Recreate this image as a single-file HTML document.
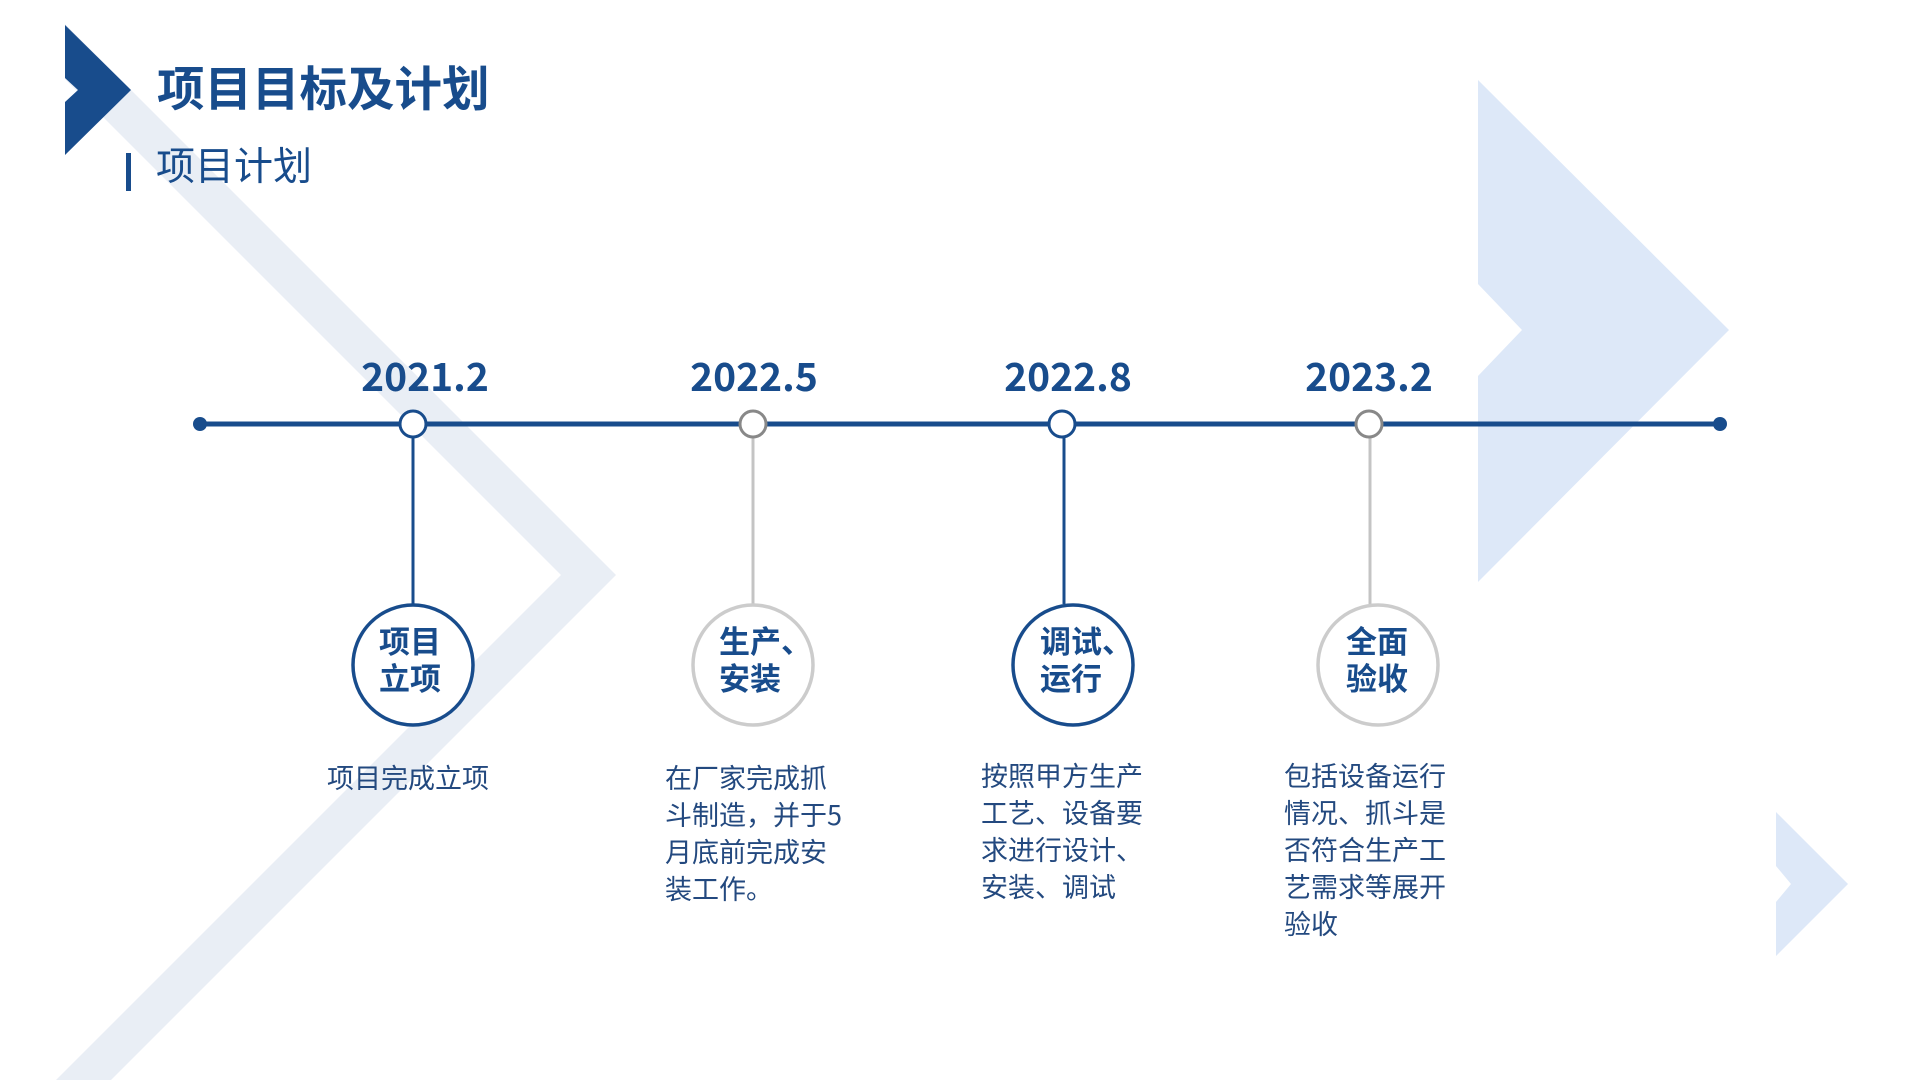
<!DOCTYPE html>
<html><head><meta charset="utf-8"><style>
html,body{margin:0;padding:0;background:#fff;}
svg{display:block}
text{font-family:"Liberation Sans","Noto Sans CJK SC",sans-serif;}
.cjk{font-family:"Noto Sans CJK SC",sans-serif;}
</style></head><body>
<svg width="1920" height="1080" viewBox="0 0 1920 1080" xmlns="http://www.w3.org/2000/svg">
<polygon points="65,24 616,575 111,1080 56,1080 561,575 65,79" fill="#e9eef5"/>
<polygon points="1478,80 1729,330 1478,582 1478,376 1522,330 1478,284" fill="#dde8f8"/>
<polygon points="1776,812 1848,884 1776,956 1776,902 1791,884 1776,866" fill="#dde8f8"/>
<polygon points="65,25 131,90 65,155 65,102 78,90 65,78" fill="#184c8c"/>
<text x="157" y="106" font-size="47.5" font-weight="bold" fill="#184c8c">项目目标及计划</text>
<rect x="126" y="153" width="5" height="38" fill="#184c8c"/>
<text x="156" y="180" font-size="39" fill="#184c8c">项目计划</text>

<line x1="200" y1="424" x2="1720" y2="424" stroke="#184c8c" stroke-width="5"/>
<circle cx="200" cy="424" r="7" fill="#184c8c"/>
<circle cx="1720" cy="424" r="7" fill="#184c8c"/>

<g font-size="39" fill="#184c8c" text-anchor="middle" style="font-family:'Noto Sans CJK SC',sans-serif;font-weight:bold">
<text class="cjk" x="425" y="391">2021.2</text>
<text class="cjk" x="754" y="391">2022.5</text>
<text class="cjk" x="1068" y="391">2022.8</text>
<text class="cjk" x="1369" y="391">2023.2</text>
</g>

<line x1="413" y1="437" x2="413" y2="604" stroke="#184c8c" stroke-width="3"/>
<line x1="753" y1="437" x2="753" y2="604" stroke="#c4c4c4" stroke-width="3"/>
<line x1="1064" y1="437" x2="1064" y2="604" stroke="#184c8c" stroke-width="3"/>
<line x1="1370" y1="437" x2="1370" y2="604" stroke="#c4c4c4" stroke-width="3"/>

<circle cx="413" cy="424" r="13" fill="#fff" stroke="#184c8c" stroke-width="3"/>
<circle cx="753" cy="424" r="13" fill="#fff" stroke="#888" stroke-width="3"/>
<circle cx="1062" cy="424" r="13" fill="#fff" stroke="#184c8c" stroke-width="3"/>
<circle cx="1369" cy="424" r="13" fill="#fff" stroke="#888" stroke-width="3"/>

<circle cx="413" cy="665" r="60" fill="#fff" stroke="#184c8c" stroke-width="3.5"/>
<circle cx="753" cy="665" r="60" fill="#fff" stroke="#cccccc" stroke-width="3.5"/>
<circle cx="1073" cy="665" r="60" fill="#fff" stroke="#184c8c" stroke-width="3.5"/>
<circle cx="1378" cy="665" r="60" fill="#fff" stroke="#cccccc" stroke-width="3.5"/>

<g font-size="31" font-weight="bold" fill="#184c8c">
<text x="379" y="653">项目</text><text x="379" y="690">立项</text>
<text x="719" y="653">生产、</text><text x="719" y="690">安装</text>
<text x="1040" y="653">调试、</text><text x="1040" y="690">运行</text>
<text x="1346" y="653">全面</text><text x="1346" y="690">验收</text>
</g>

<g font-size="27" fill="#23497f">
<text x="408" y="788" text-anchor="middle">项目完成立项</text>
<text x="665" y="788">在厂家完成抓</text>
<text class="cjk" x="665" y="825">斗制造，并于5</text>
<text x="665" y="862">月底前完成安</text>
<text x="665" y="899">装工作。</text>
<text x="981" y="786">按照甲方生产</text>
<text x="981" y="823">工艺、设备要</text>
<text x="981" y="860">求进行设计、</text>
<text x="981" y="897">安装、调试</text>
<text x="1284" y="786">包括设备运行</text>
<text x="1284" y="823">情况、抓斗是</text>
<text x="1284" y="860">否符合生产工</text>
<text x="1284" y="897">艺需求等展开</text>
<text x="1284" y="934">验收</text>
</g>
</svg>
</body></html>
